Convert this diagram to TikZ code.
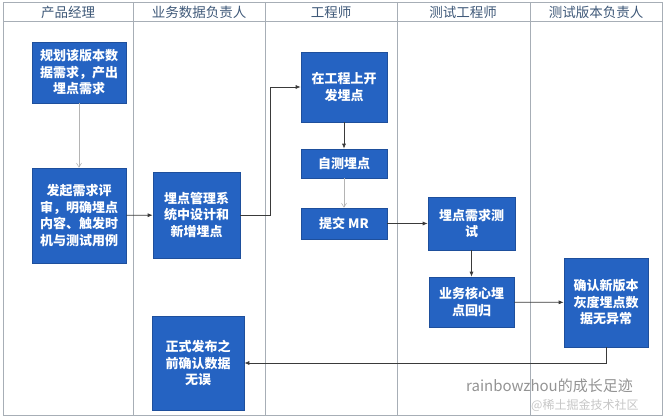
\documentclass[tikz,border=0pt]{standalone}
\usepackage{fontspec}
\setmainfont{Noto Sans CJK SC}
\definecolor{BoxBlue}{HTML}{2563C2}
\definecolor{BoxEdge}{HTML}{1E4F9C}
\definecolor{LaneGray}{HTML}{A7AEB6}
\definecolor{HeadText}{HTML}{3E5878}
\definecolor{ArrowDark}{HTML}{3A3A3A}
\definecolor{ArrowLight}{HTML}{B4B4B4}
\usetikzlibrary{arrows.meta,positioning}

\begin{document}
\begin{tikzpicture}[
  x=1pt, y=-1pt,
  task/.style={
    rectangle, draw=BoxEdge, line width=0.6pt,
    fill=BoxBlue, text=white,
    font=\fontsize{13}{16.5}\selectfont\bfseries,
    align=center, inner sep=2pt,
  },
  lane/.style={draw=LaneGray, line width=0.6pt},
  head/.style={font=\fontsize{13.5}{15}\selectfont, text=HeadText},
  arrow/.style={-{Latex[length=5pt,width=4pt]}, line width=0.7pt, color=ArrowDark},
  faint/.style={-{Straight Barb[length=4pt,width=5pt]}, line width=0.6pt, color=ArrowLight},
  wmark/.style={font=\fontsize{15}{16}\selectfont, text=gray!85, inner sep=1pt},
]
  \useasboundingbox (0,0) rectangle (666,419);

  % swimlanes
  \draw[lane] (3,2) rectangle (662,415);
  \draw[lane] (3,21) -- (662,21);
  \foreach \x in {133,265,397,530}
    \draw[lane] (\x,2) -- (\x,415);

  \node[head] (h1) at (68,12)  {产品经理};
  \node[head] (h2) at (199,12) {业务数据负责人};
  \node[head] (h3) at (331,12) {工程师};
  \node[head] (h4) at (463,12) {测试工程师};
  \node[head] (h5) at (596,12) {测试版本负责人};

  % tasks
  \node[task, minimum width=94pt, minimum height=61pt] (plan)   at (79,72.5)  {规划该版本数\\据需求，产出\\埋点需求};
  \node[task, minimum width=94pt, minimum height=95pt] (review) at (79,215.5) {发起需求评\\审，明确埋点\\内容、触发时\\机与测试用例};
  \node[task, minimum width=87pt, minimum height=86pt] (design) at (196.5,215) {埋点管理系\\统中设计和\\新增埋点};
  \node[task, minimum width=86pt, minimum height=70pt] (dev)    at (344,87)   {在工程上开\\发埋点};
  \node[task, minimum width=86pt, minimum height=29pt] (self)   at (344,163.5) {自测埋点};
  \node[task, minimum width=86pt, minimum height=31pt] (mr)     at (344,223.5) {提交 MR};
  \node[task, minimum width=87pt, minimum height=53pt] (qa)     at (471.5,223.5) {埋点需求测\\试};
  \node[task, minimum width=85pt, minimum height=50pt] (regr)   at (471.5,302) {业务核心埋\\点回归};
  \node[task, minimum width=84pt, minimum height=89pt] (gray)   at (606,302.5) {确认新版本\\灰度埋点数\\据无异常};
  \node[task, minimum width=92pt, minimum height=94pt] (release) at (198,363) {正式发布之\\前确认数据\\无误};

  % flow
  \draw[faint] (plan) -- (review);
  \draw[arrow] (review) -- (design);
  \draw[arrow] (design.east) -- ++(30,0) |- (dev);
  \draw[arrow] (dev) -- (self);
  \draw[faint] (self) -- (mr);
  \draw[arrow] (mr) -- (qa);
  \draw[arrow] (qa) -- (regr);
  \draw[arrow] (regr) -- (gray);
  \draw[arrow] (gray.south) |- (release);

  % watermark
  \node[wmark, anchor=west] (wm) at (465,386) {rainbowzhou的成长足迹};
  \node[wmark, text=gray!45, font=\fontsize{12}{13}\selectfont, anchor=west] (wm2) at (530,405) {@稀土掘金技术社区};
\end{tikzpicture}
\end{document}
